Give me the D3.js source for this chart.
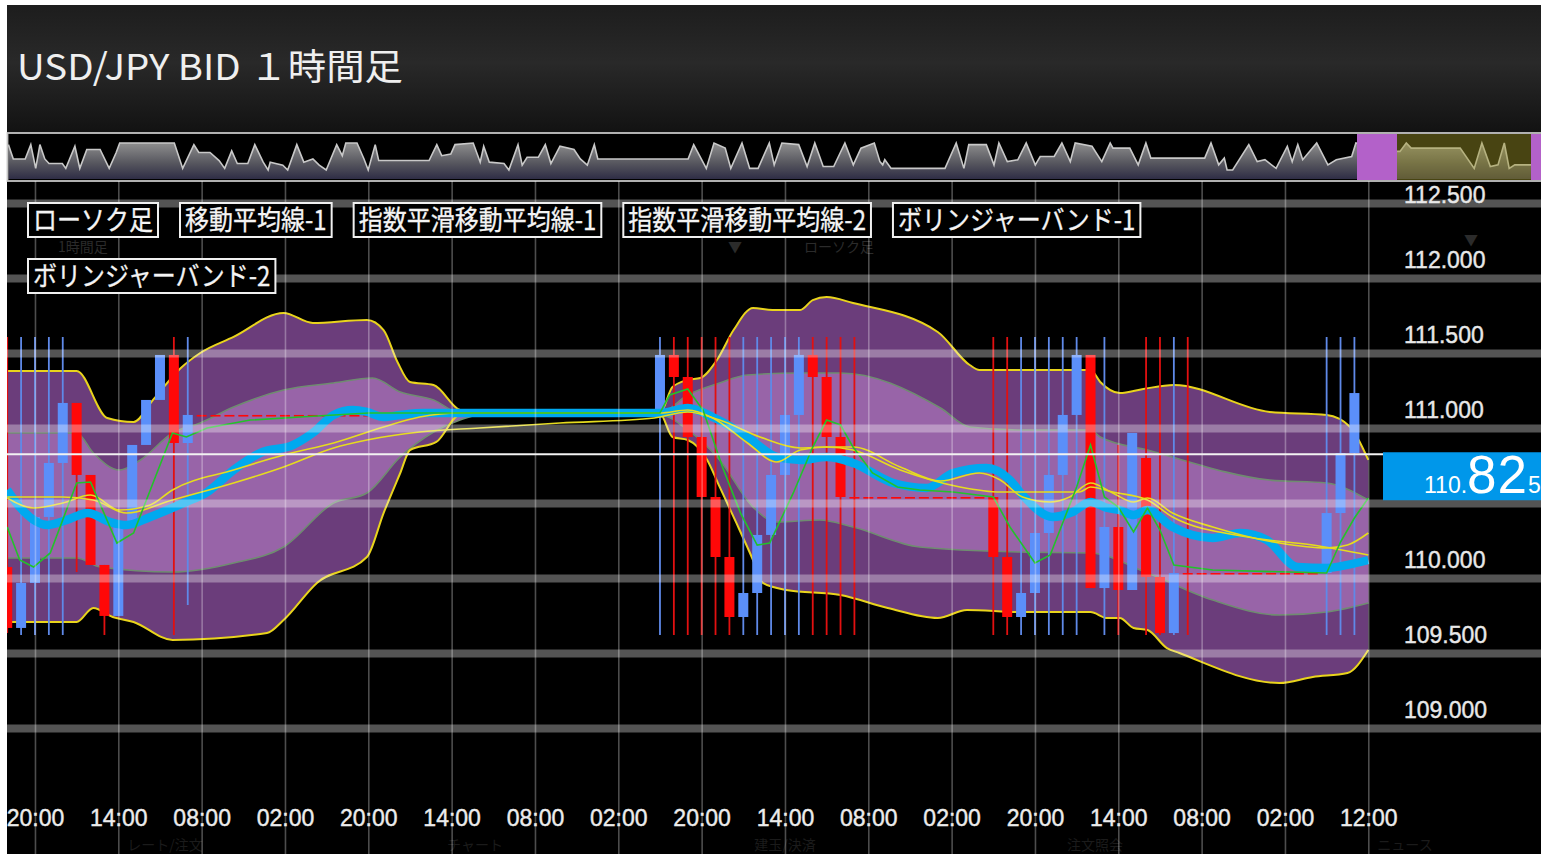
<!DOCTYPE html>
<html>
<head>
<meta charset="utf-8">
<script src="https://cdn.jsdelivr.net/npm/d3@7/dist/d3.min.js"></script>
<style>
html, body { margin: 0; padding: 0; background: #fff; overflow: hidden; }
svg { display: block; }
</style>
</head>
<body>
<div id="chart"></div>
<script>
//chart values
var titleText = "USD/JPY BID １時間足";
var priceTicks = [109.0, 109.5, 110.0, 110.5, 111.0, 111.5, 112.0, 112.5];
var timeTickIdx = [2, 8, 14, 20, 26, 32, 38, 44, 50, 56, 62, 68, 74, 80, 86, 92, 98];
var timeLabels = ["20:00", "14:00", "08:00", "02:00", "20:00", "14:00", "08:00", "02:00", "20:00",
    "14:00", "08:00", "02:00", "20:00", "14:00", "08:00", "02:00", "12:00"];
var legendNames = ["ローソク足", "移動平均線-1", "指数平滑移動平均線-1", "指数平滑移動平均線-2",
    "ボリンジャーバンド-1", "ボリンジャーバンド-2"];
var lastPrice = 110.825;

//candles [open, high, low, close]
var candles = [
    [110.073, 111.607, 109.633, 109.667], [109.667, 111.607, 109.620, 109.967], [109.967, 111.607, 109.620, 110.407],
    [110.407, 111.607, 109.620, 110.767], [110.767, 111.607, 109.620, 111.167], [111.167, 111.167, 110.040, 110.687],
    [110.687, 110.687, 110.087, 110.087], [110.087, 110.087, 109.620, 109.747], [109.747, 110.353, 109.747, 110.353],
    [110.353, 110.887, 110.353, 110.887], [110.887, 111.187, 110.887, 111.187], [111.187, 111.487, 111.187, 111.487],
    [111.487, 111.607, 109.620, 110.900], [110.900, 111.607, 109.820, 111.087],
    [111.087, 111.087, 111.087, 111.087], [111.087, 111.087, 111.087, 111.087], [111.087, 111.087, 111.087, 111.087],
    [111.087, 111.087, 111.087, 111.087], [111.087, 111.087, 111.087, 111.087], [111.087, 111.087, 111.087, 111.087],
    [111.087, 111.087, 111.087, 111.087], [111.087, 111.087, 111.087, 111.087], [111.087, 111.087, 111.087, 111.087],
    [111.087, 111.087, 111.087, 111.087], [111.087, 111.087, 111.087, 111.087], [111.087, 111.087, 111.087, 111.087],
    [111.087, 111.087, 111.087, 111.087], [111.087, 111.087, 111.087, 111.087], [111.087, 111.087, 111.087, 111.087],
    [111.087, 111.087, 111.087, 111.087], [111.087, 111.087, 111.087, 111.087], [111.087, 111.087, 111.087, 111.087],
    [111.087, 111.087, 111.087, 111.087], [111.087, 111.087, 111.087, 111.087], [111.087, 111.087, 111.087, 111.087],
    [111.087, 111.087, 111.087, 111.087], [111.087, 111.087, 111.087, 111.087], [111.087, 111.087, 111.087, 111.087],
    [111.087, 111.087, 111.087, 111.087], [111.087, 111.087, 111.087, 111.087], [111.087, 111.087, 111.087, 111.087],
    [111.087, 111.087, 111.087, 111.087], [111.087, 111.087, 111.087, 111.087], [111.087, 111.087, 111.087, 111.087],
    [111.087, 111.087, 111.087, 111.087], [111.087, 111.087, 111.087, 111.087], [111.087, 111.087, 111.087, 111.087],
    [111.120, 111.607, 109.620, 111.487], [111.487, 111.607, 109.620, 111.340], [111.340, 111.607, 109.620, 110.940],
    [110.940, 111.607, 109.620, 110.540], [110.540, 111.607, 109.620, 110.140], [110.140, 111.607, 109.620, 109.740],
    [109.740, 111.607, 109.620, 109.900], [109.900, 111.607, 109.620, 110.287], [110.287, 111.607, 109.620, 110.687],
    [110.687, 111.607, 109.620, 111.087], [111.087, 111.607, 109.620, 111.487], [111.487, 111.607, 109.620, 111.340],
    [111.340, 111.607, 109.620, 110.940], [110.940, 111.607, 109.620, 110.540], [110.540, 111.607, 109.620, 110.540],
    [110.540, 110.540, 110.540, 110.540], [110.540, 110.540, 110.540, 110.540], [110.540, 110.540, 110.540, 110.540],
    [110.540, 110.540, 110.540, 110.540], [110.540, 110.540, 110.540, 110.540], [110.540, 110.540, 110.540, 110.540],
    [110.540, 110.540, 110.540, 110.540], [110.540, 110.540, 110.540, 110.540], [110.540, 110.540, 110.540, 110.540],
    [110.540, 111.607, 109.620, 110.140], [110.140, 111.607, 109.620, 109.740], [109.740, 111.607, 109.620, 109.900],
    [109.900, 111.607, 109.620, 110.300], [110.300, 111.607, 109.620, 110.687], [110.687, 111.607, 109.620, 111.087],
    [111.087, 111.607, 109.620, 111.487], [111.487, 111.487, 109.933, 109.933], [109.933, 111.607, 109.620, 110.340],
    [110.340, 110.887, 109.620, 109.920], [109.920, 110.967, 109.920, 110.967], [110.800, 111.607, 109.620, 110.007],
    [110.007, 111.607, 109.620, 109.633], [109.633, 111.607, 109.620, 110.033], [110.033, 111.607, 109.620, 110.033],
    [110.033, 110.033, 110.033, 110.033], [110.033, 110.033, 110.033, 110.033], [110.033, 110.033, 110.033, 110.033],
    [110.033, 110.033, 110.033, 110.033], [110.033, 110.033, 110.033, 110.033], [110.033, 110.033, 110.033, 110.033],
    [110.033, 110.033, 110.033, 110.033], [110.033, 110.033, 110.033, 110.033], [110.033, 110.033, 110.033, 110.033],
    [110.033, 111.607, 109.620, 110.433], [110.433, 111.607, 109.620, 110.833], [110.833, 111.607, 109.620, 111.233]
];

//bollinger band lines [bar index, price]
var bbUpper2 = [[0, 111.380], [5, 111.380], [7.2, 111.067], [9.1, 111.040], [10.5, 111.187], [12.5, 111.400],
    [13.9, 111.500], [16.3, 111.607], [19.9, 111.767], [22, 111.700], [25.9, 111.720], [27.1, 111.653],
    [28.1, 111.440], [29, 111.307], [30.7, 111.287], [32.6, 111.120], [34, 111.100], [47, 111.100],
    [47.9, 111.273], [49, 111.320], [49.9, 111.333], [51.1, 111.453], [52.3, 111.653], [53.7, 111.800],
    [55.1, 111.787], [57.1, 111.787], [58, 111.853], [59, 111.873], [60.9, 111.833], [67, 111.640],
    [69.3, 111.420], [70, 111.387], [78, 111.387], [78.7, 111.307], [80.1, 111.233], [81.8, 111.260],
    [84, 111.287], [90.9, 111.107], [95, 111.087], [96.7, 111.007], [98, 110.787]];
var bbLower2 = [[0, 109.707], [5, 109.707], [6.2, 109.800], [7.6, 109.740], [9.1, 109.707], [11.9, 109.587],
    [18.7, 109.633], [19.9, 109.720], [22.3, 109.967], [25.9, 110.140], [27.1, 110.433], [28.3, 110.700],
    [29, 110.853], [30.9, 110.907], [32.6, 111.090], [34, 111.095], [47, 111.095], [47.9, 110.940],
    [49, 110.920], [50.4, 110.787], [51.3, 110.607], [52.5, 110.367], [53.7, 110.120], [54.4, 109.967],
    [56.1, 109.920], [60, 109.887], [63.4, 109.800], [67, 109.733], [69.1, 109.787], [73, 109.773],
    [78, 109.773], [79.2, 109.733], [80.1, 109.733], [81.1, 109.667], [82.1, 109.653], [83.5, 109.533],
    [84.4, 109.500], [91.6, 109.300], [94, 109.340], [96.5, 109.367], [98, 109.520]];
var bbUpper1 = [[0, 110.967], [5, 110.967], [6.2, 110.833], [8.1, 110.720], [9.6, 110.787], [11.9, 110.967],
    [13.9, 111.033], [16.3, 111.140], [19.9, 111.253], [23.5, 111.300], [26.3, 111.333], [28.3, 111.240],
    [30.7, 111.187], [32.6, 111.100], [47, 111.100], [49, 111.220], [51.3, 111.300], [53.3, 111.353],
    [57.1, 111.367], [60, 111.367], [67.2, 111.133], [69.3, 111.007], [72.9, 110.987], [78, 110.987],
    [78.7, 110.940], [82.1, 110.853], [90.9, 110.653], [95, 110.633], [98, 110.520]];
var bbLower1 = [[0, 110.133], [5, 110.133], [6.7, 110.073], [11.9, 110.040], [16.3, 110.100], [19.9, 110.207],
    [23.5, 110.500], [25.9, 110.567], [28.3, 110.807], [30.7, 110.973], [32.6, 111.053], [34, 111.087],
    [47, 111.087], [49, 110.987], [51.3, 110.787], [53.7, 110.473], [55.4, 110.373], [58.5, 110.387],
    [60.9, 110.340], [65.7, 110.207], [72.9, 110.173], [78, 110.167], [82.1, 110.033], [86.8, 109.853],
    [91.6, 109.753], [95, 109.773], [98, 109.833]];

//moving averages [bar index, price]
var maCyan = [[0, 110.587], [0.9, 110.473], [2.9, 110.353], [4.3, 110.387], [5.8, 110.433], [7.4, 110.373],
    [8.6, 110.353], [10.3, 110.407], [12.7, 110.500], [14.4, 110.573], [16.3, 110.720], [18.2, 110.833],
    [20.6, 110.887], [22, 110.967], [23.5, 111.087], [24.9, 111.120], [25.9, 111.107], [27.1, 111.073],
    [28.3, 111.087], [30, 111.100], [47, 111.100], [49, 111.133], [50.8, 111.073], [53.3, 110.940],
    [55.4, 110.807], [57.1, 110.787], [59, 110.807], [60.9, 110.767], [63.8, 110.633], [66.2, 110.600],
    [68.1, 110.700], [70.5, 110.733], [72.2, 110.653], [73.1, 110.553], [75.3, 110.407], [76.7, 110.440],
    [78, 110.507], [79.2, 110.467], [80.1, 110.453], [81.1, 110.420], [82.1, 110.453], [83.9, 110.340],
    [86.8, 110.267], [88.8, 110.300], [90.7, 110.253], [92.9, 110.073], [95, 110.067], [96.5, 110.087],
    [98, 110.120]];
var maGreen = [[0, 110.340], [0.9, 110.120], [1.9, 110.073], [3.1, 110.167], [5, 110.633], [6, 110.640],
    [7.9, 110.233], [9.1, 110.300], [11.9, 110.967], [12.9, 110.940], [14.4, 111.000], [17.5, 111.053],
    [21.1, 111.073], [26, 111.100], [47, 111.100], [47.7, 111.220], [49, 111.260], [50.1, 111.120],
    [51.5, 110.740], [52.8, 110.433], [54, 110.220], [54.9, 110.233], [56.6, 110.567], [58, 110.873],
    [59, 111.053], [60, 111.020], [60.9, 110.873], [62.3, 110.700], [64.1, 110.607], [65.7, 110.587],
    [68.1, 110.573], [71, 110.540], [72.2, 110.340], [74, 110.100], [75.1, 110.153], [77, 110.607],
    [78, 110.887], [79, 110.540], [80, 110.473], [81.1, 110.307], [82.1, 110.467], [83, 110.320],
    [84, 110.087], [86.8, 110.053], [95, 110.033], [96, 110.240], [97, 110.400], [98, 110.533]];
var maYellowA = [[0, 110.533], [1.9, 110.467], [4, 110.500], [6, 110.553], [8.1, 110.453], [10.3, 110.487],
    [11.9, 110.587], [16.3, 110.720], [19.9, 110.820], [23.5, 110.900], [27.1, 111.007], [29.7, 111.073],
    [32.6, 111.100], [47, 111.100], [49, 111.120], [50.8, 111.067], [53.3, 110.900], [55.4, 110.773],
    [57.1, 110.853], [59, 110.873], [60.9, 110.873], [64.3, 110.740], [67.2, 110.647], [70, 110.700],
    [71.5, 110.653], [73.1, 110.540], [75.1, 110.507], [76.5, 110.540], [78, 110.633], [79.6, 110.567],
    [81.1, 110.507], [82.1, 110.533], [83.9, 110.433], [86.8, 110.340], [91.6, 110.233], [95, 110.200],
    [96.5, 110.220], [98, 110.300]];
var maYellowB = [[0, 110.540], [4, 110.540], [6.2, 110.520], [8.6, 110.433], [11.9, 110.520], [16.3, 110.633],
    [19.9, 110.740], [23.5, 110.867], [25.9, 110.920], [29.7, 110.973], [34, 111.000], [39.8, 111.033],
    [46.6, 111.067], [49, 111.107], [51.3, 111.053], [54.2, 110.940], [57.1, 110.867], [59, 110.873],
    [60.9, 110.853], [64.3, 110.720], [68.6, 110.607], [71.5, 110.573], [77.2, 110.573], [78, 110.607],
    [79.6, 110.573], [82.1, 110.520], [83.9, 110.407], [89.3, 110.273], [94, 110.220], [98, 110.153]];

//overview strip [position, level 0-100]
var navPoints = [[1.2, 94], [1.9, 41], [3.6, 41], [4.4, 94], [5.1, 6], [5.7, 94], [6.4, 41], [7.0, 24], [8.9, 24],
    [9.4, 6], [10.7, 88], [11.4, 6], [12.4, 76], [14.3, 76], [15.6, 6], [16.6, 65], [17.1, 100], [24.9, 100],
    [26.1, 6], [27.7, 94], [28.4, 65], [30.0, 65], [31.3, 35], [32.1, 6], [33.1, 71], [33.9, 24], [35.4, 24],
    [36.4, 94], [37.6, 29], [38.3, 0], [38.6, 29], [40.4, 18], [41.1, 0], [42.4, 94], [43.4, 29], [44.7, 41],
    [45.6, 18], [46.6, 0], [48.1, 94], [48.9, 53], [49.4, 100], [51.0, 100], [52.0, 41], [52.6, 0], [53.6, 94],
    [54.1, 35], [61.3, 35], [62.4, 94], [63.1, 53], [64.4, 59], [65.0, 94], [67.6, 100], [68.6, 29], [69.1, 88],
    [69.9, 29], [72.0, 24], [72.7, 0], [74.0, 94], [74.6, 18], [75.3, 47], [76.9, 47], [77.9, 94], [78.7, 24],
    [80.0, 88], [82.0, 76], [82.9, 41], [83.9, 18], [84.9, 94], [85.4, 41], [98.3, 41], [99.1, 94], [100.9, 6],
    [102.0, 100], [103.6, 81], [104.4, 6], [106.0, 100], [107.1, 6], [108.3, 6], [109.9, 100], [110.6, 19],
    [111.7, 100], [114.1, 94], [115.3, 13], [116.4, 100], [117.6, 13], [119.1, 13], [120.7, 100], [121.9, 19],
    [123.0, 81], [124.9, 100], [125.7, 31], [126.1, 19], [126.4, 38], [127.3, 6], [135.0, 6], [136.6, 100],
    [137.7, 6], [138.4, 94], [140.9, 94], [142.0, 19], [142.7, 100], [143.9, 31], [145.4, 38], [146.6, 100],
    [147.9, 19], [148.6, 50], [150.6, 50], [151.7, 100], [152.9, 31], [153.6, 100], [156.0, 88], [157.4, 31],
    [158.6, 100], [159.0, 81], [161.4, 81], [162.6, 19], [163.7, 100], [164.4, 44], [172.1, 44], [173.0, 100],
    [174.1, 19], [174.9, 44], [175.3, 0], [176.1, 0], [178.4, 94], [179.6, 31], [180.7, 38], [182.3, 6],
    [183.9, 88], [184.6, 31], [185.4, 94], [186.1, 38], [188.1, 100], [189.7, 19], [190.9, 38], [193.1, 50],
    [193.7, 100], [199.3, 69], [200.0, 69], [200.9, 100], [201.6, 81], [208.6, 81], [210.6, 6], [211.7, 100],
    [212.9, 13], [214.0, 19], [214.9, 100], [215.6, 6], [216.4, 19], [218.7, 19], [220, 19]];

//svg and layout
var svgWidth = 1541;
var svgHeight = 854;
var left = 7;
var titleTop = 5, navTop = 133, navBottom = 181;
var plotRight = 1368.3;
var boxLeft = 1383;
var cjk = "'Noto Sans CJK JP', 'Noto Sans', sans-serif";
var num = "'Liberation Sans', Arial, sans-serif";

var svg = d3.select("#chart").append("svg")
    .attr("width", svgWidth)
    .attr("height", svgHeight);

var defs = svg.append("defs");

var titleGrad = defs.append("linearGradient").attr("id", "titleGrad")
    .attr("x1", 0).attr("y1", 0).attr("x2", 0).attr("y2", 1);
titleGrad.append("stop").attr("offset", "0%").attr("stop-color", "#1d1d1d");
titleGrad.append("stop").attr("offset", "45%").attr("stop-color", "#292929");
titleGrad.append("stop").attr("offset", "100%").attr("stop-color", "#121212");

var navGrad = defs.append("linearGradient").attr("id", "navGrad")
    .attr("gradientUnits", "userSpaceOnUse")
    .attr("x1", 0).attr("y1", 143).attr("x2", 0).attr("y2", 180);
navGrad.append("stop").attr("offset", "0%").attr("stop-color", "#8e8e8e");
navGrad.append("stop").attr("offset", "55%").attr("stop-color", "#56565e");
navGrad.append("stop").attr("offset", "100%").attr("stop-color", "#2c2a44");

defs.append("clipPath").attr("id", "plotClip")
    .append("rect").attr("x", left).attr("y", navBottom + 1)
    .attr("width", plotRight - left + 1).attr("height", svgHeight - navBottom);

//background
svg.append("rect").attr("width", svgWidth).attr("height", svgHeight).attr("fill", "#fff");
svg.append("rect").attr("x", left).attr("y", titleTop)
    .attr("width", svgWidth - left).attr("height", navTop - titleTop)
    .attr("fill", "url(#titleGrad)");
svg.append("rect").attr("x", left).attr("y", navBottom)
    .attr("width", svgWidth - left).attr("height", svgHeight - navBottom)
    .attr("fill", "#000");

svg.append("text")
    .attr("x", 17).attr("y", 80)
    .attr("font-family", cjk).attr("font-size", "36px")
    .attr("textLength", 386).attr("lengthAdjust", "spacingAndGlyphs")
    .attr("fill", "#efefef")
    .text(titleText);

//overview strip
var navX = d3.scaleLinear().domain([0, 220]).range([0, 1540]);
var navY = d3.scaleLinear().domain([0, 100]).range([170, 143]);

svg.append("rect").attr("x", left).attr("y", navTop)
    .attr("width", svgWidth - left).attr("height", navBottom - navTop)
    .attr("fill", "#000");

var navArea = d3.area()
    .x(d => navX(d[0]))
    .y0(179)
    .y1(d => navY(d[1]));
var navLine = d3.line()
    .x(d => navX(d[0]))
    .y(d => navY(d[1]));

svg.append("path").datum(navPoints).attr("d", navArea).attr("fill", "url(#navGrad)");
svg.append("path").datum(navPoints).attr("d", navLine)
    .attr("fill", "none").attr("stroke", "#c8c8c8").attr("stroke-width", 1.6);

svg.append("rect").attr("x", 1397).attr("y", navTop + 1)
    .attr("width", 134).attr("height", navBottom - navTop - 2)
    .attr("fill", "rgba(160,150,40,0.45)");
svg.append("rect").attr("x", 1357).attr("y", navTop + 1)
    .attr("width", 40).attr("height", navBottom - navTop - 2).attr("fill", "#b361c9");
svg.append("rect").attr("x", 1531).attr("y", navTop + 1)
    .attr("width", 10).attr("height", navBottom - navTop - 2).attr("fill", "#b361c9");
svg.append("rect").attr("x", left + 0.5).attr("y", navTop)
    .attr("width", svgWidth - left + 2).attr("height", navBottom - navTop)
    .attr("fill", "none").attr("stroke", "#c4c4c4").attr("stroke-width", 1.8);

//scales
var xScale = d3.scaleLinear().domain([0, 98]).range([7.2, plotRight]);
var yScale = d3.scaleLinear().domain([109, 112.5]).range([728, 203]);

var chartGroup = svg.append("g");

//faint background texts
var ghost = chartGroup.append("g").attr("fill", "#2b2b2b").attr("font-family", cjk).attr("font-size", "14px");
ghost.append("text").attr("x", 58).attr("y", 252).text("1時間足");
ghost.append("text").attr("x", 804).attr("y", 252).text("ローソク足");
ghost.append("text").attr("x", 728).attr("y", 252).text("▼");
ghost.append("text").attr("x", 1464).attr("y", 245).text("▼");

var navNames = ["レート/注文", "チャート", "建玉/決済", "注文照会", "ニュース"];
chartGroup.append("g").selectAll("text")
    .data(navNames)
    .enter()
    .append("text")
    .attr("x", (d, i) => 165 + i * 310)
    .attr("y", 850)
    .attr("text-anchor", "middle")
    .attr("font-family", cjk).attr("font-size", "14px")
    .attr("fill", "#1b1b1b")
    .text(d => d);

var plot = chartGroup.append("g").attr("clip-path", "url(#plotClip)");

//band fills as closed shapes
var curveLine = d3.line()
    .x(d => xScale(d[0]))
    .y(d => yScale(d[1]))
    .curve(d3.curveMonotoneX);

function bandPath(upper, lower) {
    var top = curveLine(upper);
    var bottom = curveLine(lower.slice().reverse()).replace(/^M/, "L");
    return top + bottom + "Z";
}

plot.append("path").attr("d", bandPath(bbUpper2, bbLower2)).attr("fill", "#6b3d7b");
plot.append("path").attr("d", bandPath(bbUpper1, bbLower1)).attr("fill", "#9864a8");

//grid lines
var yGrid = chartGroup.append("g")
    .attr("transform", `translate(${left}, 0)`)
    .call(d3.axisLeft(yScale).tickValues(priceTicks).tickSize(-(svgWidth - left)).tickFormat(""));
yGrid.select(".domain").remove();
yGrid.selectAll("line").attr("stroke", "rgba(255,255,255,0.33)").attr("stroke-width", 8);

var xAxis = chartGroup.append("g")
    .attr("transform", `translate(0, ${svgHeight})`)
    .call(d3.axisBottom(xScale)
        .tickValues(timeTickIdx)
        .tickSize(-(svgHeight - navBottom))
        .tickPadding(-44)
        .tickFormat((d, i) => timeLabels[i]));
xAxis.select(".domain").remove();
xAxis.selectAll("line").attr("stroke", "rgba(255,255,255,0.3)").attr("stroke-width", 1.6);
xAxis.selectAll("text")
    .attr("fill", "#ececec")
    .attr("stroke", "#ececec").attr("stroke-width", 0.4)
    .attr("font-family", num)
    .attr("font-size", "23px");

//band lines
function drawLine(data, color, width) {
    plot.append("path")
        .datum(data)
        .attr("d", curveLine)
        .attr("fill", "none")
        .attr("stroke", color)
        .attr("stroke-width", width)
        .attr("stroke-linejoin", "round");
}
drawLine(bbUpper1, "#6f8c70", 1.6);
drawLine(bbLower1, "#6f8c70", 1.6);
drawLine(bbUpper2, "#e9d41c", 2);
drawLine(bbLower2, "#e9d41c", 2);

//current price line
chartGroup.append("line")
    .attr("x1", left).attr("x2", boxLeft)
    .attr("y1", yScale(lastPrice)).attr("y2", yScale(lastPrice))
    .attr("stroke", "#f2f2f2").attr("stroke-width", 2);

//candles
var candleData = candles.map((d, i) => ({ i: i, o: d[0], h: d[1], l: d[2], c: d[3] }));
var upColor = "#5b8ff9", downColor = "#ff0808";

plot.selectAll(".wick")
    .data(candleData.filter(d => d.h > Math.max(d.o, d.c) + 0.0005 || d.l < Math.min(d.o, d.c) - 0.0005))
    .enter()
    .append("line")
    .classed("wick", true)
    .attr("x1", d => xScale(d.i)).attr("x2", d => xScale(d.i))
    .attr("y1", d => yScale(d.h)).attr("y2", d => yScale(d.l))
    .attr("stroke", d => d.c > d.o ? "#5f89e8" : "#e21010")
    .attr("stroke-width", 1.8);

plot.selectAll(".body")
    .data(candleData)
    .enter()
    .append("rect")
    .classed("body", true)
    .attr("x", d => xScale(d.i) - 5)
    .attr("width", 10)
    .attr("y", d => yScale(Math.max(d.o, d.c)))
    .attr("height", d => Math.max(1.6, Math.abs(yScale(d.o) - yScale(d.c))))
    .attr("fill", d => d.c > d.o ? upColor : downColor);

//moving averages
drawLine(maCyan, "#00a9ef", 8.5);
drawLine(maYellowB, "#e6dc1e", 1.6);
drawLine(maYellowA, "#e6dc1e", 1.6);
plot.append("path")
    .datum(maGreen)
    .attr("d", d3.line().x(d => xScale(d[0])).y(d => yScale(d[1])))
    .attr("fill", "none")
    .attr("stroke", "#22c22a")
    .attr("stroke-width", 1.6);

//price labels, the one under the current price box is hidden
var boxTop = yScale(lastPrice) - 2, boxBottom = boxTop + 48;
var shownTicks = priceTicks.filter(function (d) {
    var ty = Math.max(yScale(d) - 11, 202);
    return ty < boxTop || ty - 17 > boxBottom;
});
var yAxis = chartGroup.append("g")
    .attr("transform", "translate(1404, 0)")
    .call(d3.axisRight(yScale).tickValues(shownTicks).tickSize(0).tickPadding(0).tickFormat(d3.format(".3f")));
yAxis.select(".domain").remove();
yAxis.selectAll("text")
    .attr("dy", null)
    .attr("y", d => Math.max(yScale(d) - 11, 202) - yScale(d))
    .attr("fill", "#e8e8e8")
    .attr("stroke", "#e8e8e8").attr("stroke-width", 0.4)
    .attr("font-family", num)
    .attr("font-size", "23px");

//current price box
chartGroup.append("rect")
    .attr("x", boxLeft).attr("y", boxTop)
    .attr("width", svgWidth - boxLeft).attr("height", 48)
    .attr("fill", "#0097ea");
var priceStr = lastPrice.toFixed(3);
var priceText = chartGroup.append("text")
    .attr("x", 1424).attr("y", boxTop + 41)
    .attr("fill", "#fff").attr("font-family", num);
priceText.append("tspan").attr("font-size", "23px").text(priceStr.slice(0, 4));
priceText.append("tspan").attr("font-size", "53px").attr("letter-spacing", "1px").text(priceStr.slice(4, 6));
priceText.append("tspan").attr("font-size", "23px").text(priceStr.slice(6));

//legend boxes
var legendGroup = chartGroup.append("g");
var lx = 28, ly = 203, boxH = 34, gap = 22;
legendNames.forEach(function (name) {
    var g = legendGroup.append("g");
    var rect = g.append("rect");
    var t = g.append("text")
        .attr("font-family", cjk)
        .attr("font-size", "27px")
        .attr("fill", "#f4f4f4")
        .attr("stroke", "#f4f4f4").attr("stroke-width", 0.3)
        .text(name);
    var w = t.node().getComputedTextLength() * 24 / 27;
    if (lx + w + 10 > 1372) {
        lx = 28;
        ly += 56;
    }
    t.attr("x", lx + 5).attr("y", ly + 27)
        .attr("textLength", w).attr("lengthAdjust", "spacingAndGlyphs");
    rect.attr("x", lx).attr("y", ly)
        .attr("width", w + 10).attr("height", boxH)
        .attr("fill", "#000").attr("stroke", "#f0f0f0").attr("stroke-width", 2);
    lx += w + 10 + gap;
});
</script>
</body>
</html>
